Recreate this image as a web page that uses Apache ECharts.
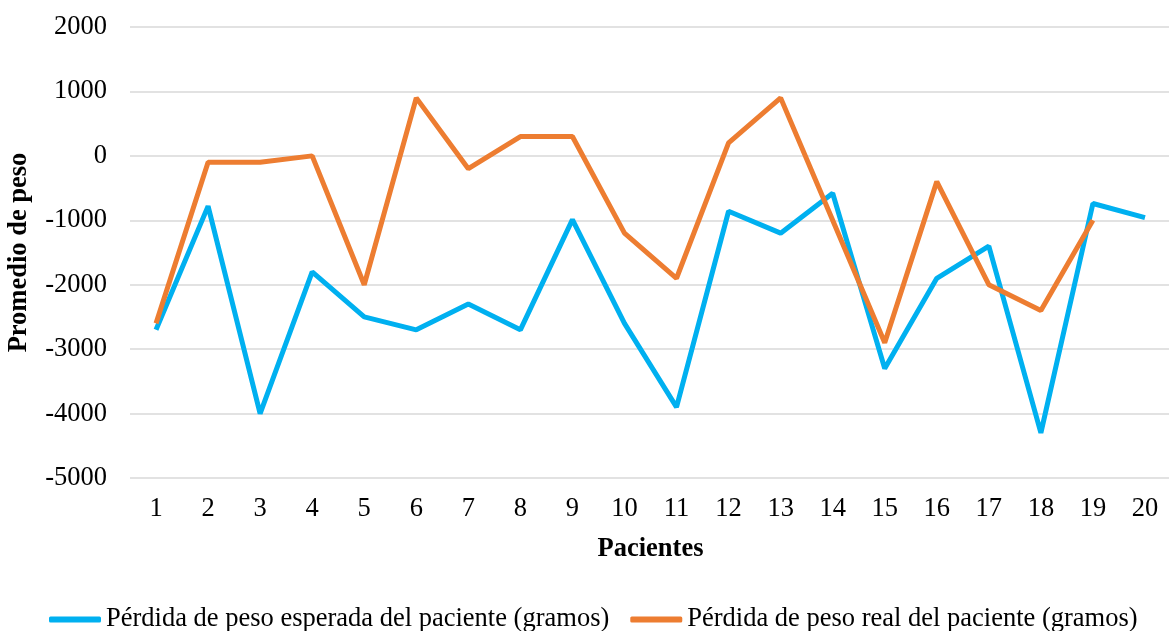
<!DOCTYPE html>
<html>
<head>
<meta charset="utf-8">
<script src="https://cdn.jsdelivr.net/npm/echarts@6/dist/echarts.min.js"></script>
<style>html,body{margin:0;padding:0;background:#fff}#c{width:1169px;height:631px}</style>
</head>
<body>
<div id="c"></div>
<script>
const categories = ['1','2','3','4','5','6','7','8','9','10','11','12','13','14','15','16','17','18','19','20'];
const esperada = [-2700,-780,-4000,-1800,-2500,-2700,-2300,-2700,-990,-2600,-3900,-860,-1200,-580,-3300,-1900,-1400,-4300,-740,-960];
const real = [-2600,-100,-100,0,-2000,900,-200,300,300,-1200,-1900,200,900,-1000,-2900,-400,-2000,-2400,-1000,null];
const seriesNames = ['Pérdida de peso esperada del paciente (gramos)','Pérdida de peso real del paciente (gramos)'];

const font = 'Liberation Serif, Times New Roman, serif';
const chart = echarts.init(document.getElementById('c'));
chart.setOption({
  animation: false,
  color: ['#00B0F0','#ED7D31'],
  grid: {left: 130, right: -2, top: 27, bottom: 153, containLabel: false, outerBoundsMode: 'none'},
  legend: {
    left: 44, bottom: -7,
    icon: 'roundRect', itemWidth: 52, itemHeight: 6, itemGap: 21,
    textStyle: {fontFamily: font, fontSize: 26.5, color: '#000'},
    data: seriesNames
  },
  xAxis: {
    type: 'category', data: categories, boundaryGap: true,
    name: 'Pacientes', nameLocation: 'middle', nameGap: 58,
    nameTextStyle: {fontFamily: font, fontSize: 26.5, fontWeight: 'bold', color: '#000'},
    axisLine: {show: false}, axisTick: {show: false},
    axisLabel: {fontFamily: font, fontSize: 26.5, color: '#000', margin: 18, interval: 0}
  },
  yAxis: {
    type: 'value', min: -5000, max: 2000, interval: 1000,
    name: 'Promedio de peso', nameLocation: 'middle', nameGap: 97,
    nameTextStyle: {fontFamily: font, fontSize: 26.5, fontWeight: 'bold', color: '#000'},
    axisLine: {show: false}, axisTick: {show: false},
    axisLabel: {fontFamily: font, fontSize: 26.5, color: '#000', margin: 23, formatter: v => String(v)},
    splitLine: {lineStyle: {color: '#d9d9d9', width: 1.5}}
  },
  series: [
    {name: seriesNames[0], type: 'line', data: esperada, symbol: 'none', lineStyle: {width: 5}},
    {name: seriesNames[1], type: 'line', data: real, symbol: 'none', lineStyle: {width: 5}}
  ]
});
</script>
</body>
</html>
